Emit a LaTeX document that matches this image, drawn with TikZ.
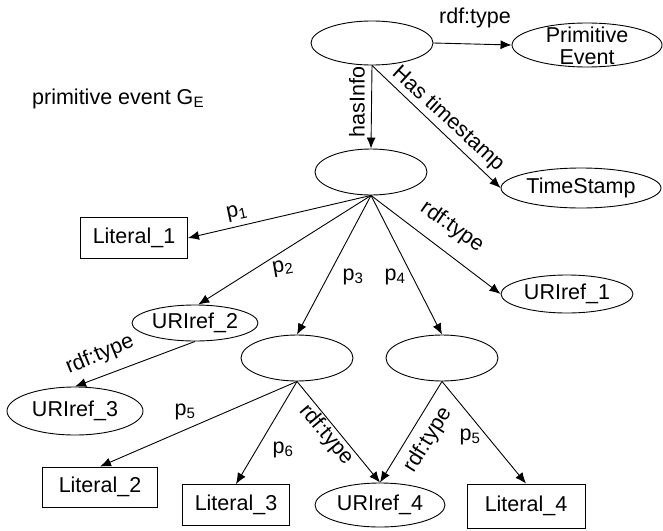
\documentclass[tikz,border=0pt]{standalone}
\usepackage{fontspec}
\setmainfont{Liberation Sans}
\usetikzlibrary{shapes.geometric,arrows.meta}
\begin{document}
\begin{tikzpicture}[x=1pt,y=-1pt,
  every node/.style={font=\fontsize{21.5}{23}\selectfont},
  ell/.style={draw,ellipse,inner sep=0pt,line width=0.9pt},
  box/.style={draw,rectangle,inner sep=0pt,line width=0.9pt},
  arr/.style={-{Latex[length=11pt,width=9pt]},line width=0.9pt},
  lbl/.style={inner sep=0pt}]
\useasboundingbox (0,0) rectangle (663,530);

% nodes
\node[ell,minimum width=122,minimum height=44] (top) at (372,43) {};
\node[ell,minimum width=150,minimum height=44] (pe) at (587,45) {};
\node[lbl,align=center,font=\fontsize{21.5}{22}\selectfont] (petext) at (587,46) {Primitive\\Event};
\node[ell,minimum width=112,minimum height=46] (mid) at (371,172) {};
\node[ell,minimum width=160,minimum height=40] (ts) at (581,188) {TimeStamp};
\node[box,minimum width=107,minimum height=41] (lit1) at (134,238) {Literal\_1};
\node[ell,minimum width=132,minimum height=38] (u1) at (567,294) {URIref\_1};
\node[ell,minimum width=126,minimum height=36] (u2) at (195,323) {URIref\_2};
\node[ell,minimum width=112,minimum height=46] (b1) at (297,358) {};
\node[ell,minimum width=112,minimum height=46] (b2) at (442,358) {};
\node[ell,minimum width=136,minimum height=48] (u3) at (75,411) {URIref\_3};
\node[box,minimum width=115,minimum height=40] (lit2) at (100,487) {Literal\_2};
\node[box,minimum width=107,minimum height=41] (lit3) at (236,505) {Literal\_3};
\node[ell,minimum width=130,minimum height=44] (u4) at (380,505) {URIref\_4};
\node[box,minimum width=118,minimum height=44] (lit4) at (526,506) {Literal\_4};

\node[lbl,anchor=west] (ge) at (32,99) {primitive event G\textsubscript{E}};

% connectors
\draw[arr] (top.east) -- (pe.west);
\draw[arr] (top.south) -- (mid.north);
\draw[arr] (top.south) -- (ts.west);
\draw[arr] (mid.south) -- (lit1.east);
\draw[arr] (mid.south) -- (u2.80);
\draw[arr] (mid.south) -- (b1.north);
\draw[arr] (mid.south) -- (b2.north);
\draw[arr] (mid.south) -- (u1.west);
\draw[arr] (u2.south) -- (u3.north);
\draw[arr] (b1.south) -- (lit2.north);
\draw[arr] (b1.south) -- (lit3.north);
\draw[arr] (b1.south) -- (u4.north);
\draw[arr] (b2.south) -- (u4.north);
\draw[arr] (b2.south) -- (lit4.north);

% labels
\node[lbl] (l1) at (475,18) {rdf:type};
\node[lbl,rotate=90] (l2) at (357,102) {hasInfo};
\node[lbl,rotate=-42.4] (l3) at (448,119) {Has timestamp};
\node[lbl,rotate=12] (l4) at (237,213) {p\textsubscript{1}};
\node[lbl,rotate=10] (l5) at (283,268) {p\textsubscript{2}};
\node[lbl] (l6) at (353,277) {p\textsubscript{3}};
\node[lbl] (l7) at (395,277) {p\textsubscript{4}};
\node[lbl,rotate=-35] (l8) at (452,227) {rdf:type};
\node[lbl,rotate=22.5] (l9) at (100,355) {rdf:type};
\node[lbl] (l10) at (185,412) {p\textsubscript{5}};
\node[lbl] (l11) at (283,450) {p\textsubscript{6}};
\node[lbl,rotate=-50] (l12) at (326,435) {rdf:type};
\node[lbl,rotate=58] (l13) at (428,440) {rdf:type};
\node[lbl] (l14) at (470,437) {p\textsubscript{5}};
\end{tikzpicture}
\end{document}
